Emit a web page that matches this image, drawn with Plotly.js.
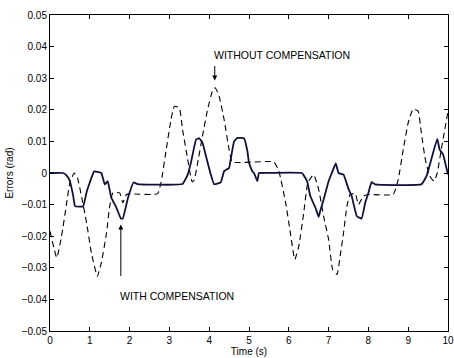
<!DOCTYPE html>
<html>
<head>
<meta charset="utf-8">
<script src="https://cdn.plot.ly/plotly-3.0.1.min.js"></script>
<style>html,body{margin:0;padding:0;background:#fff;}#chart{width:454px;height:358px;}</style>
</head>
<body>
<div id="chart"></div>
<script>
// With compensation (solid)
var compX = [0,0.33,0.42,0.5,0.58,0.63,0.83,0.92,1.0,1.11,
  1.29,1.375,1.45,1.54,1.67,1.78,1.83,1.96,2.1,2.2,
  3.33,3.46,3.54,3.67,3.75,3.83,3.92,4.04,4.125,4.29,
  4.375,4.5,4.54,4.625,4.71,4.875,4.96,5.0,5.08,5.125,
  5.21,5.25,5.33,6.33,6.46,6.54,6.67,6.75,6.79,6.875,
  7.0,7.08,7.18,7.25,7.375,7.5,7.58,7.71,7.83,7.92,
  8.0,8.08,8.17,9.33,9.46,9.58,9.73,9.79,9.875,10];
var compY = [0,0,-0.0008,-0.0026,-0.007,-0.0105,-0.0106,-0.006,-0.003,0.0005,
  0,-0.0036,-0.0026,-0.0078,-0.011,-0.0144,-0.0144,-0.0078,-0.003,-0.0035,
  -0.0035,-0.0005,0.0032,0.0106,0.011,0.0096,0.0053,-0.0005,-0.0036,-0.003,
  0.0006,0.0016,0.0043,0.01,0.0111,0.011,0.0069,0.0032,0.0006,0,
  -0.0026,0,0,0,-0.0026,-0.0073,-0.011,-0.0139,-0.012,-0.0084,
  -0.0026,0,0.003,0,-0.0005,-0.005,-0.0073,-0.0137,-0.0144,-0.0094,
  -0.0063,-0.0029,-0.0036,-0.0036,-0.001,0.0043,0.0108,0.0074,0.0059,-0.0005];
// Without compensation (dashed)
var uncompX = [0,0.17,0.29,0.42,0.5,0.61,0.69,0.79,0.92,1.04,
  1.19,1.29,1.42,1.5,1.58,1.75,1.83,1.92,2.0,2.7,
  2.79,2.92,3.04,3.125,3.25,3.33,3.46,3.57,3.625,3.71,
  3.83,3.96,4.08,4.15,4.25,4.375,4.5,4.58,5.625,5.75,
  5.92,6.04,6.15,6.25,6.375,6.48,6.625,6.75,6.875,7.0,
  7.1,7.21,7.29,7.375,7.46,7.54,7.67,7.75,7.875,8.0,
  8.625,8.75,8.875,9.0,9.125,9.25,9.33,9.43,9.54,9.65,
  9.73,9.83,9.92,10];
var uncompY = [-0.0184,-0.0268,-0.02,-0.0094,-0.003,0,-0.0015,-0.0073,-0.0158,-0.0253,
  -0.0327,-0.0284,-0.019,-0.0105,-0.0063,-0.0063,-0.0094,-0.0068,-0.0066,-0.0066,
  -0.003,0.0074,0.0169,0.0211,0.0206,0.0138,0.0043,-0.0028,-0.0022,0.0032,
  0.0116,0.0201,0.0259,0.027,0.0243,0.0169,0.0074,0.0035,0.0035,0.0006,
  -0.0094,-0.019,-0.0274,-0.0232,-0.0126,-0.003,-0.0005,-0.0052,-0.0137,-0.021,
  -0.0305,-0.0321,-0.0263,-0.019,-0.0105,-0.0068,-0.0065,-0.01,-0.0073,-0.0068,
  -0.0068,-0.002,0.0074,0.0159,0.0203,0.0196,0.0127,0.0043,-0.001,-0.0026,
  0,0.0074,0.0138,0.0196];

var xTickVals = [0,1,2,3,4,5,6,7,8,9,10];
var xTickText = ['0','1','2','3','4','5','6','7','8','9','10'];
var yTickVals = [-0.05,-0.04,-0.03,-0.02,-0.01,0,0.01,0.02,0.03,0.04,0.05];
var yTickText = ['\u22120.05','\u22120.04','\u22120.03','\u22120.02','\u22120.01','0','0.01','0.02','0.03','0.04','0.05'];

var labelWithout = 'WITHOUT COMPENSATION';
var labelWith = 'WITH COMPENSATION';
var arrowWithout = {tipX: 4.14, tipY: 0.0293, tailX: 4.14, tailY: 0.0343, textX: 5.82, textY: 0.0375};
var arrowWith = {tipX: 1.78, tipY: -0.0163, tailX: 1.78, tailY: -0.0331, textX: 3.18, textY: -0.0388};

var font = 'Liberation Sans, Arial, Helvetica, sans-serif';

var traces = [
  {x: uncompX, y: uncompY, type: 'scatter', mode: 'lines', name: 'without',
   line: {color: '#000000', width: 1.1, dash: '6px,4px', shape: 'spline', smoothing: 0.4}},
  {x: compX, y: compY, type: 'scatter', mode: 'lines', name: 'with',
   line: {color: '#10103a', width: 1.8, shape: 'spline', smoothing: 0.3}}
];

var axisCommon = {
  showgrid: false, zeroline: false, showline: true, linecolor: '#000', linewidth: 1,
  mirror: 'ticks', ticks: 'inside', ticklen: 4, tickcolor: '#000', tickwidth: 1,
  tickfont: {family: font, size: 10, color: '#000'}, tickmode: 'array',
  ticklabeloverflow: 'allow', automargin: false
};

var layout = {
  width: 454, height: 358,
  margin: {l: 50, r: 6, t: 15, b: 27},
  paper_bgcolor: '#fff', plot_bgcolor: '#fff',
  showlegend: false,
  font: {family: font, size: 10, color: '#000'},
  xaxis: Object.assign({}, axisCommon, {
    range: [0, 10], tickvals: xTickVals, ticktext: xTickText,
    title: {text: 'Time (s)', font: {family: font, size: 10, color: '#000'}, standoff: 0}
  }),
  yaxis: Object.assign({}, axisCommon, {
    range: [-0.05, 0.05], tickvals: yTickVals, ticktext: yTickText,
    title: {text: 'Errors (rad)', font: {family: font, size: 10, color: '#000'}, standoff: 6}
  }),
  annotations: [
    {x: arrowWithout.tipX, y: arrowWithout.tipY, ax: arrowWithout.tailX, ay: arrowWithout.tailY,
     axref: 'x', ayref: 'y', xref: 'x', yref: 'y', text: '', showarrow: true,
     arrowhead: 2, arrowsize: 1, arrowwidth: 1, arrowcolor: '#000'},
    {x: arrowWith.tipX, y: arrowWith.tipY, ax: arrowWith.tailX, ay: arrowWith.tailY,
     axref: 'x', ayref: 'y', xref: 'x', yref: 'y', text: '', showarrow: true,
     arrowhead: 2, arrowsize: 1, arrowwidth: 1, arrowcolor: '#000'},
    {x: arrowWithout.textX, y: arrowWithout.textY, xref: 'x', yref: 'y', text: labelWithout,
     showarrow: false, font: {family: font, size: 10.5, color: '#000'}},
    {x: arrowWith.textX, y: arrowWith.textY, xref: 'x', yref: 'y', text: labelWith,
     showarrow: false, font: {family: font, size: 10.5, color: '#000'}}
  ]
};

Plotly.newPlot('chart', traces, layout, {staticPlot: true, displayModeBar: false});
</script>
</body>
</html>
